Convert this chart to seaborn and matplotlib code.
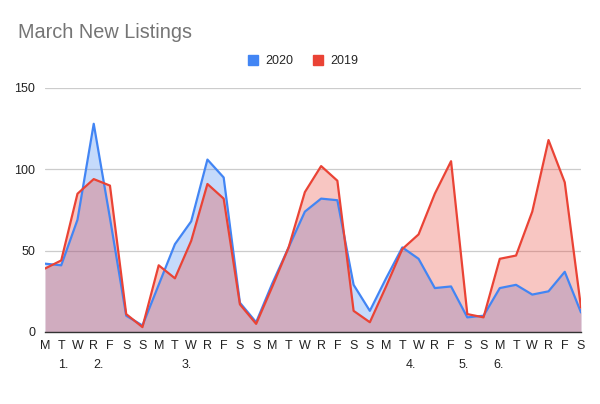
import seaborn as sns
import matplotlib.pyplot as plt
import numpy as np
import pandas as pd
from matplotlib.patches import Patch

# day letters along the x axis
days = list('MTWRFSS') * 4 + list('MTWRFS')

# new listings per day
y2020 = [42, 41, 69, 128, 70, 10, 4, 29, 54, 68, 106, 95, 18, 6, 30, 52, 74, 82,
         81, 29, 13, 33, 52, 45, 27, 28, 9, 10, 27, 29, 23, 25, 37, 12]
y2019 = [39, 44, 85, 94, 90, 11, 3, 41, 33, 56, 91, 82, 17, 5, 28, 52, 86, 102,
         93, 13, 6, 28, 51, 60, 85, 105, 11, 9, 45, 47, 74, 118, 92, 15]

# numbered notes under the day letters
note_labels = ['1.', '2.', '3.', '4.', '5.', '6.']
note_pos = [1.15, 3.3, 8.7, 22.5, 25.8, 27.9]

blue = '#4285F4'
red = '#EA4335'

data = pd.DataFrame({
    'idx': list(range(len(days))) * 2,
    'value': y2020 + y2019,
    'year': ['2020'] * len(days) + ['2019'] * len(days),
})

sns.set_style('white')
plt.rcParams['font.family'] = ['Liberation Sans', 'DejaVu Sans']

fig = plt.figure(figsize=(6, 4.04), dpi=100)
ax = fig.add_axes([45 / 600, 1 - 332 / 404, 536 / 600, 244 / 404])

x = np.arange(len(days))
ax.fill_between(x, y2020, color=blue, alpha=0.3, linewidth=0, zorder=1)
ax.fill_between(x, y2019, color=red, alpha=0.3, linewidth=0, zorder=2)
sns.lineplot(data=data, x='idx', y='value', hue='year',
             palette={'2020': blue, '2019': red}, hue_order=['2020', '2019'],
             linewidth=1.6, legend=False, ax=ax, zorder=3)

ax.set_xlim(0, len(days) - 1)
ax.set_ylim(0, 150)
ax.set_yticks([0, 50, 100, 150])
ax.set_xticks(x)
ax.set_xticklabels(days)
ax.tick_params(axis='both', length=0, labelsize=9, colors='#222222')
ax.tick_params(axis='x', pad=6)
ax.tick_params(axis='y', pad=7)
ax.grid(axis='y', color='#cccccc', linewidth=0.9)
ax.set_axisbelow(True)
for s in ['top', 'right', 'left']:
    ax.spines[s].set_visible(False)
ax.spines['bottom'].set_color('#333333')
ax.spines['bottom'].set_linewidth(1.0)
ax.spines['bottom'].set_zorder(4)
ax.set_xlabel('')
ax.set_ylabel('')

for lab, p in zip(note_labels, note_pos):
    ax.text(p, -0.112, lab, transform=ax.get_xaxis_transform(),
            ha='center', va='top', fontsize=9, color='#222222')

fig.text(18 / 600, 1 - 32 / 404, 'March New Listings', fontsize=14.3,
         color='#757575', va='center', ha='left')

handles = [Patch(facecolor=blue, edgecolor=blue, label='2020'),
           Patch(facecolor=red, edgecolor=red, label='2019')]
fig.legend(handles=handles, loc='center', bbox_to_anchor=(303 / 600, 1 - 61 / 404),
           ncol=2, frameon=False, fontsize=9, handlelength=0.8, handleheight=0.8,
           handletextpad=0.6, columnspacing=1.6)

plt.savefig('out.png', dpi=100)
